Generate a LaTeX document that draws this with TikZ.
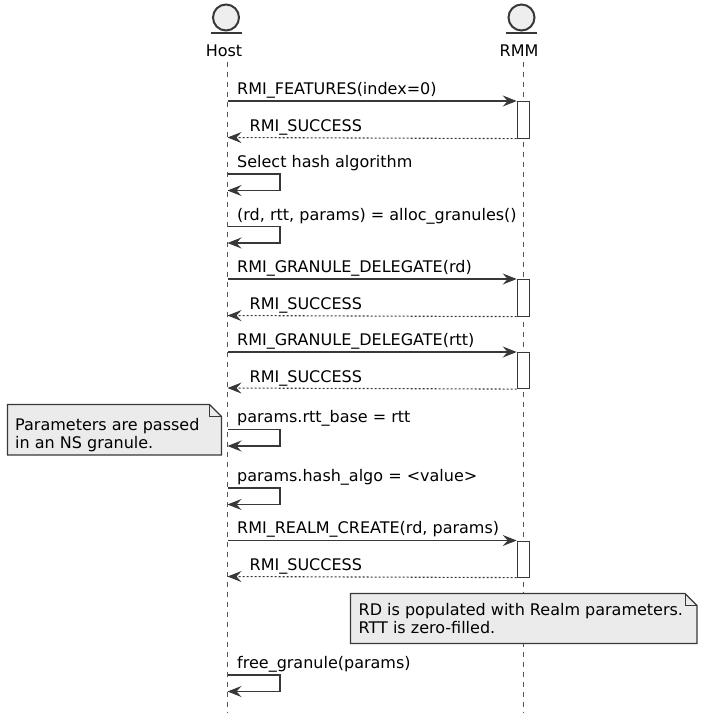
\documentclass[tikz,border=0pt]{standalone}
\usepackage{fontspec}
\setmainfont{DejaVu Sans}
\usetikzlibrary{arrows.meta}
\definecolor{linec}{HTML}{383838}
\definecolor{lifec}{HTML}{555555}
\definecolor{notef}{HTML}{EBEBEB}
\definecolor{headf}{HTML}{EEEEEE}
\tikzset{
  lifeline/.style={draw=lifec, line width=0.9pt, dash pattern=on 5pt off 5pt},
  actbar/.style={draw=linec, fill=white, line width=1.1pt, minimum width=12.5pt, inner sep=0pt, anchor=north},
  msg/.style={draw=linec, line width=1.1pt, -{Stealth[length=14pt,width=11pt,inset=5pt]}},
  ret/.style={msg, dash pattern=on 2pt off 2pt},
  selfmsg/.style={msg, rounded corners=0pt},
  lbl/.style={anchor=base west, inner sep=0pt, text=black, font=\fontsize{16}{19}\selectfont},
  hdr/.style={anchor=base, inner sep=0pt, text=black, font=\fontsize{16}{19}\selectfont},
  head/.style={circle, draw=linec, fill=headf, line width=2pt, minimum size=26pt, inner sep=0pt},
  notebox/.style={draw=linec, fill=notef, line width=1.1pt},
}
\begin{document}
\begin{tikzpicture}[x=1pt,y=-1pt]
\useasboundingbox (0,0) rectangle (704,713);
\def\hx{227.5}
\def\rx{523.5}
% lifelines
\coordinate (htop) at (\hx,62);
\coordinate (hbot) at (\hx,713);
\coordinate (rtop) at (\rx,62);
\coordinate (rbot) at (\rx,713);
\draw[lifeline] (htop) -- (hbot);
\draw[lifeline] (rtop) -- (rbot);
% participants
\node[head] (hhead) at (\hx-1.5,17.5) {};
\draw[linec, line width=2pt] (\hx-17,33) -- (\hx+14,33);
\node[hdr] (hname) at (\hx-3.5,56.5) {Host};
\node[head] (rhead) at (\rx-2,17.5) {};
\draw[linec, line width=2pt] (\rx-17.5,33) -- (\rx+13.5,33);
\node[hdr] (rname) at (\rx-4.5,56.5) {RMM};

% 1 RMI_FEATURES
\node[actbar, minimum height=36.5pt] (b1) at (\rx,101) {};
\coordinate (h1) at (\hx,101);
\coordinate (h1r) at (\hx,137.5);
\draw[msg] (h1) -- (b1.north west);
\draw[ret] (b1.south west) -- (h1r);
\node[lbl] (l1) at (237,94) {RMI\_FEATURES(index=0)};
\node[lbl] (l1r) at (249.5,131) {RMI\_SUCCESS};

% 2 Select hash algorithm
\coordinate (s2a) at (\hx,174);
\coordinate (s2b) at (\hx,190.5);
\draw[selfmsg] (s2a) -- (280,174) -- (280,190.5) -- (s2b);
\node[lbl] (l2) at (237,167) {Select hash algorithm};

% 3 alloc_granules
\coordinate (s3a) at (\hx,226.5);
\coordinate (s3b) at (\hx,243);
\draw[selfmsg] (s3a) -- (280,226.5) -- (280,243) -- (s3b);
\node[lbl] (l3) at (237,220) {(rd, rtt, params) = alloc\_granules()};

% 4 GRANULE_DELEGATE(rd)
\node[actbar, minimum height=36.5pt] (b4) at (\rx,279) {};
\coordinate (h4) at (\hx,279);
\coordinate (h4r) at (\hx,315.5);
\draw[msg] (h4) -- (b4.north west);
\draw[ret] (b4.south west) -- (h4r);
\node[lbl] (l4) at (237,272) {RMI\_GRANULE\_DELEGATE(rd)};
\node[lbl] (l4r) at (249.5,309.5) {RMI\_SUCCESS};

% 5 GRANULE_DELEGATE(rtt)
\node[actbar, minimum height=36pt] (b5) at (\rx,352) {};
\coordinate (h5) at (\hx,352);
\coordinate (h5r) at (\hx,388);
\draw[msg] (h5) -- (b5.north west);
\draw[ret] (b5.south west) -- (h5r);
\node[lbl] (l5) at (237,345) {RMI\_GRANULE\_DELEGATE(rtt)};
\node[lbl] (l5r) at (249.5,382) {RMI\_SUCCESS};

% note 1
\draw[notebox] (7.5,404.5) -- (209.5,404.5) -- (221.5,416.5) -- (221.5,455) -- (7.5,455) -- cycle;
\draw[linec, line width=1pt] (209.5,404.5) -- (209.5,416.5) -- (221.5,416.5);
\node[lbl] (n1a) at (15,430) {Parameters are passed};
\node[lbl] (n1b) at (15,448.3) {in an NS granule.};

% 6 params.rtt_base
\coordinate (s6a) at (\hx,429.5);
\coordinate (s6b) at (\hx,446);
\draw[selfmsg] (s6a) -- (280,429.5) -- (280,446) -- (s6b);
\node[lbl] (l6) at (237,422.5) {params.rtt\_base = rtt};

% 7 params.hash_algo
\coordinate (s7a) at (\hx,488);
\coordinate (s7b) at (\hx,504.5);
\draw[selfmsg] (s7a) -- (280,488) -- (280,504.5) -- (s7b);
\node[lbl] (l7) at (237,481) {params.hash\_algo = <value>};

% 8 REALM_CREATE
\node[actbar, minimum height=36pt] (b8) at (\rx,540.5) {};
\coordinate (h8) at (\hx,540.5);
\coordinate (h8r) at (\hx,576.5);
\draw[msg] (h8) -- (b8.north west);
\draw[ret] (b8.south west) -- (h8r);
\node[lbl] (l8) at (237,533.5) {RMI\_REALM\_CREATE(rd, params)};
\node[lbl] (l8r) at (249.5,570.5) {RMI\_SUCCESS};

% note 2
\draw[notebox] (350.5,593.5) -- (685,593.5) -- (697,605.5) -- (697,643.5) -- (350.5,643.5) -- cycle;
\draw[linec, line width=1pt] (685,593.5) -- (685,605.5) -- (697,605.5);
\node[lbl] (n2a) at (358.5,615) {RD is populated with Realm parameters.};
\node[lbl] (n2b) at (358.5,633.3) {RTT is zero-filled.};

% 9 free_granule
\coordinate (s9a) at (\hx,675);
\coordinate (s9b) at (\hx,691.5);
\draw[selfmsg] (s9a) -- (280,675) -- (280,691.5) -- (s9b);
\node[lbl] (l9) at (237,668) {free\_granule(params)};
\end{tikzpicture}
\end{document}
